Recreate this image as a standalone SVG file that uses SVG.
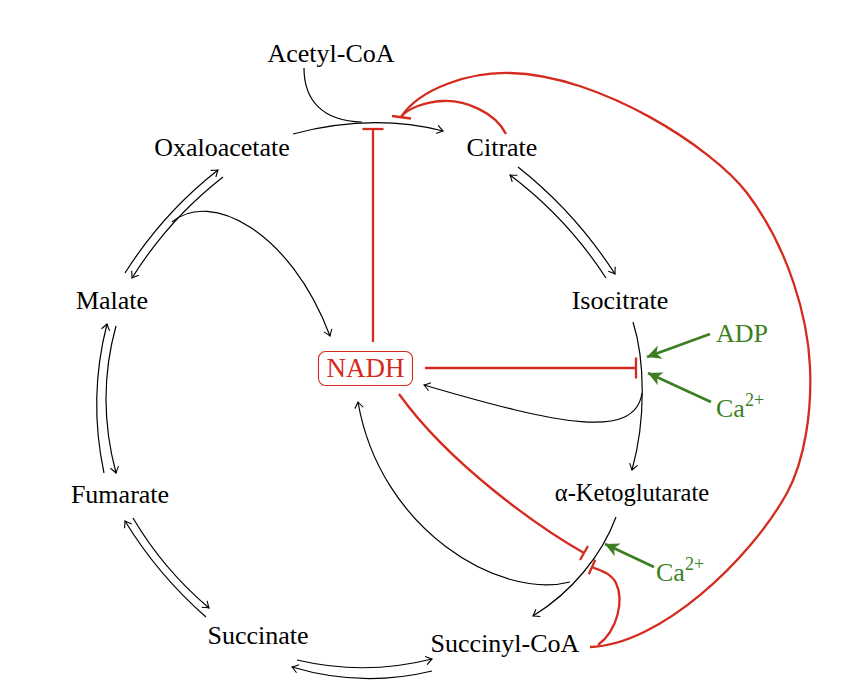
<svg xmlns="http://www.w3.org/2000/svg" width="856" height="690" viewBox="0 0 856 690">
<style>
.lbl{font-family:"Liberation Serif","DejaVu Serif",serif;font-size:26px;fill:#000;text-anchor:middle}
.grn{font-family:"Liberation Serif","DejaVu Serif",serif;font-size:26px;fill:#3b7f22}
.sup{font-size:18px}
.blk{fill:none;stroke:#000;stroke-width:1.2}
.red{fill:none;stroke:#d52b1e;stroke-width:2.3}
.green{fill:none;stroke:#3b7f22;stroke-width:2.6}
</style>
<defs>
<marker id="arr" markerUnits="userSpaceOnUse" orient="auto" markerWidth="10" markerHeight="10" refX="0" refY="0" overflow="visible">
<path d="M-6,-4.2 Q-2,-1.2 0,0 Q-2,1.2 -6,4.2" fill="none" stroke="#000" stroke-width="1.1"/>
</marker>
<marker id="garr" markerUnits="userSpaceOnUse" orient="auto" markerWidth="14" markerHeight="14" refX="0" refY="0" overflow="visible">
<path d="M0,0 L-14,-7 L-10,0 L-14,7 Z" fill="#3b7f22"/>
</marker>
<marker id="bar" markerUnits="userSpaceOnUse" orient="auto" markerWidth="4" markerHeight="22" refX="0" refY="0" overflow="visible">
<path d="M0,-10.5 V10.5" stroke="#d52b1e" stroke-width="2.3"/>
</marker>
<marker id="sbar" markerUnits="userSpaceOnUse" orient="auto" markerWidth="4" markerHeight="18" refX="0" refY="0" overflow="visible">
<path d="M0,-8 V8" stroke="#d52b1e" stroke-width="2.3"/>
</marker>
</defs>

<g id="connectors">
<!-- cycle reactions -->
<path class="blk" d="M293,134 Q372,113 443,131" marker-end="url(#arr)"/>
<path class="blk" d="M304,68 C304,100 322,121 362,122"/>
<path class="blk" d="M518,167 Q575,212 615,274" marker-end="url(#arr)"/>
<path class="blk" d="M606,278 Q567,218 510,175" marker-end="url(#arr)"/>
<path class="blk" d="M633,322 C645,360 646,420 632,470" marker-end="url(#arr)"/>
<path class="blk" d="M642,393 C635,440 560,425 424,385" marker-end="url(#arr)"/>
<path class="blk" d="M616,517 C602,555 572,592 533,616" marker-end="url(#arr)"/>
<path class="blk" d="M570,582 C500,600 380,530 358,402" marker-end="url(#arr)"/>
<path class="blk" d="M297,660 Q365,676 432,659" marker-end="url(#arr)"/>
<path class="blk" d="M432,671 Q362,688 292,667" marker-end="url(#arr)"/>
<path class="blk" d="M133,518 Q163,569 209,608" marker-end="url(#arr)"/>
<path class="blk" d="M206,617 Q158,575 125,521" marker-end="url(#arr)"/>
<path class="blk" d="M104,473 Q88,398 107,324" marker-end="url(#arr)"/>
<path class="blk" d="M116,326 Q96,398 116,473" marker-end="url(#arr)"/>
<path class="blk" d="M125,273 Q163,213 218,170" marker-end="url(#arr)"/>
<path class="blk" d="M223,177 Q169,219 132,278" marker-end="url(#arr)"/>
<path class="blk" d="M172,222 C210,190 290,230 330,336" marker-end="url(#arr)"/>
<!-- red inhibitions -->
<path class="red" d="M373,342 V129" marker-end="url(#bar)"/>
<path class="red" d="M425,368 H636" marker-end="url(#bar)"/>
<path class="red" d="M399,394 C450,465 540,528 584,553" marker-end="url(#sbar)"/>
<path class="red" d="M598,645 C618,630 624,600 616,583 C611,573 601,571 592,567" marker-end="url(#sbar)"/>
<path class="red" d="M506,134 C495,112 465,100 443,101 C425,102 408,108 401,117"/>
<path class="red" d="M590,647 C660,645 750,560 787,493 C805,460 812,410 810,367 C808,320 790,250 747,193 C713,148 600,75 510,73 C470,72 420,88 401,117"/>
<path class="red" d="M392,116 L411,118.5"/>
<!-- green activations -->
<path class="green" d="M710,334 L647,357" marker-end="url(#garr)"/>
<path class="green" d="M711,402 L648,373" marker-end="url(#garr)"/>
<path class="green" d="M654,567 L605,544" marker-end="url(#garr)"/>
</g>

<g id="acetylcoa"><text class="lbl" x="331" y="62">Acetyl-CoA</text></g>
<g id="oxaloacetate"><text class="lbl" x="222" y="156">Oxaloacetate</text></g>
<g id="citrate"><text class="lbl" x="502" y="156">Citrate</text></g>
<g id="isocitrate"><text class="lbl" x="620" y="309">Isocitrate</text></g>
<g id="malate"><text class="lbl" x="112" y="309">Malate</text></g>
<g id="fumarate"><text class="lbl" x="120" y="503">Fumarate</text></g>
<g id="ketoglutarate"><text class="lbl" x="632" y="501" style="font-size:24.5px">α-Ketoglutarate</text></g>
<g id="succinate"><text class="lbl" x="258" y="644">Succinate</text></g>
<g id="succinylcoa"><text class="lbl" x="505" y="652">Succinyl-CoA</text></g>
<g id="nadh">
<rect x="318.5" y="351.5" width="94" height="34" rx="7" fill="none" stroke="#d52b1e" stroke-width="1.1"/>
<text class="lbl" x="365.5" y="377" style="fill:#d52b1e;font-size:27px">NADH</text>
</g>
<g id="adp"><text class="grn" x="716" y="342">ADP</text></g>
<g id="ca1"><text class="grn" x="716" y="417">Ca<tspan class="sup" dy="-11">2+</tspan></text></g>
<g id="ca2"><text class="grn" x="656" y="581">Ca<tspan class="sup" dy="-11">2+</tspan></text></g>
</svg>
